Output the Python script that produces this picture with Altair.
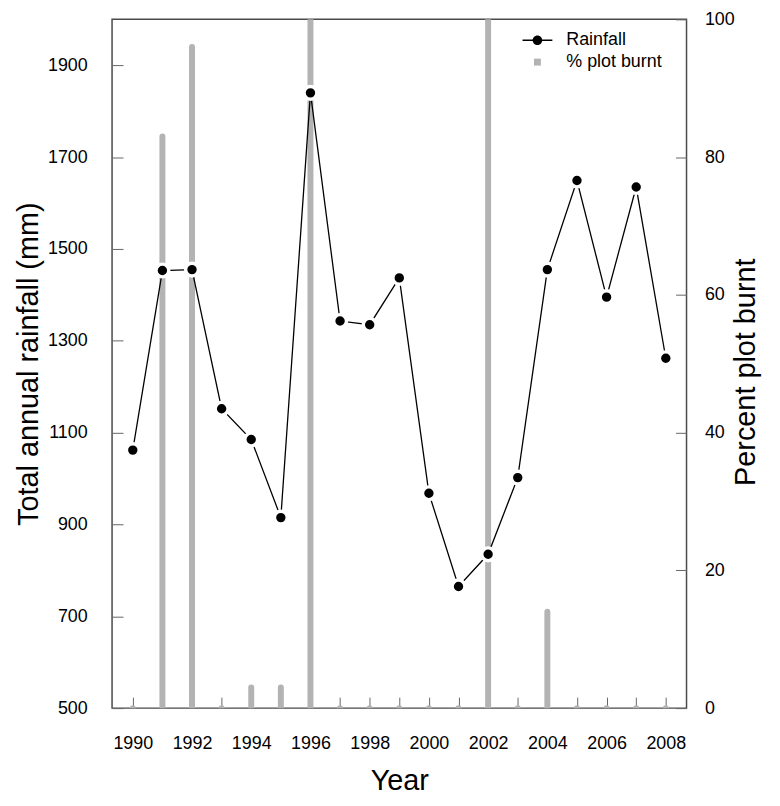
import altair as alt
import pandas as pd

# ---- data ----
years = list(range(1990, 2009))
rainfall_mm = [1062, 1453, 1455, 1152, 1085, 915, 1840, 1343, 1335, 1437,
               968, 765, 835, 1002, 1455, 1649, 1395, 1635, 1262]
percent_burnt = [0, 83, 96, 0, 3, 3, 100, 0, 0, 0,
                 0, 0, 100, 0, 14, 0, 0, 0, 0]
series_names = ["Rainfall", "% plot burnt"]
rain_ticks = [500, 700, 900, 1100, 1300, 1500, 1700, 1900]
pct_ticks = [0, 20, 40, 60, 80, 100]

df = pd.DataFrame({"year": years, "rain": rainfall_mm, "pct": percent_burnt})
legend_df = pd.DataFrame({"series": series_names})

FONT = "Liberation Sans"
BAR_GREY = "#b3b3b3"
PLOT_H = 693

# custom legend symbols (line with dot, small square)
line_dot = ("M-1.25,-0.055H-0.3V0.055H-1.25Z "
            "M0.3,-0.055H1.25V0.055H0.3Z "
            "M0.4,0A0.4,0.4 0 1,1 -0.4,0A0.4,0.4 0 1,1 0.4,0Z")
square = "M-0.29,-0.29H0.29V0.29H-0.29Z"

x_enc = alt.X(
    "year:Q",
    scale=alt.Scale(domain=[1989.3, 2008.7], nice=False, zero=False),
    axis=alt.Axis(
        values=years, format="d",
        labelExpr="datum.value % 2 == 0 ? datum.label : ''",
        title="Year", offset=-11, tickSize=11, domain=False, grid=False,
        labelPadding=27, labelOverlap=False, labelFlush=False,
        titleY=84, titleBaseline="middle",
    ),
)

bars = alt.Chart(df).mark_rule(
    strokeWidth=6, strokeCap="round", color=BAR_GREY, clip=True
).encode(
    x=x_enc,
    y=alt.Y(
        "pct:Q",
        scale=alt.Scale(domain=[0, 100], nice=False),
        axis=alt.Axis(
            orient="right", values=pct_ticks, title="Percent plot burnt",
            offset=-11, tickSize=11, domain=False, grid=False, format="d",
            labelPadding=18, titleAngle=270, titleAlign="center",
            titleBaseline="middle", titleX=70, titleY=PLOT_H / 2 + 8,
        ),
    ),
    y2=alt.datum(0),
)

rain_y = alt.Y(
    "rain:Q",
    scale=alt.Scale(domain=[500, 2000], nice=False, zero=False),
    axis=alt.Axis(
        orient="left", values=rain_ticks, title="Total annual rainfall (mm)",
        offset=-11, tickSize=11, domain=False, grid=False, format="d",
        labelPadding=25, titleAngle=270, titleAlign="center",
        titleBaseline="middle", titleX=-95, titleY=PLOT_H / 2,
    ),
)

line = alt.Chart(df).mark_line(color="black", strokeWidth=1.3).encode(
    x=x_enc, y=rain_y
)
points = alt.Chart(df).mark_circle(
    size=165, fill="black", stroke="white", strokeWidth=3.4, opacity=1
).encode(x=x_enc, y=rain_y)

rain_layer = alt.layer(line, points)

leg = alt.Legend(
    title=None, orient="none", legendX=416, legendY=9, symbolSize=576,
    labelOffset=17, rowPadding=1, padding=0, symbolStrokeWidth=0,
    symbolOpacity=1, labelFontSize=18, labelFont=FONT, labelColor="black",
)

# legend-only layer: no rows are drawn, the legend comes from the scales' domains
dummy = alt.Chart(legend_df).transform_filter("false").mark_point(
    filled=True, opacity=1, size=576
).encode(
    color=alt.Color(
        "series:N",
        scale=alt.Scale(domain=series_names, range=["black", BAR_GREY]),
        legend=leg,
    ),
    shape=alt.Shape(
        "series:N",
        scale=alt.Scale(domain=series_names, range=[line_dot, square]),
        legend=leg,
    ),
)

chart = alt.layer(bars, rain_layer, dummy).resolve_scale(
    y="independent"
).properties(
    width=578, height=PLOT_H, autosize="none",
    padding={"left": 104.7, "top": 9, "right": 86, "bottom": 90},
).configure_view(
    stroke="#4a4a4a", strokeWidth=1.5
).configure_axis(
    labelFont=FONT, titleFont=FONT, labelFontSize=18, titleFontSize=29,
    titleFontWeight="normal", labelColor="black", titleColor="black",
    tickColor="#666666", tickWidth=1,
)

chart.save("out.html", embed_options={"renderer": "svg", "actions": False})
